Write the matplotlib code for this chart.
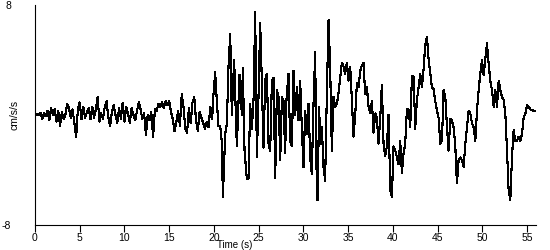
import matplotlib
matplotlib.use('Agg')
import matplotlib.pyplot as plt

# acceleration record
time_s = [
    0.0, 0.2, 0.4, 0.6, 0.8, 1.0, 1.2, 1.4, 1.6, 1.8,
    2.0, 2.2, 2.4, 2.6, 2.8, 3.0, 3.2, 3.4, 3.6, 3.8,
    4.0, 4.2, 4.4, 4.6, 4.8, 5.0, 5.2, 5.4, 5.6, 5.8,
    6.0, 6.2, 6.4, 6.6, 6.8, 7.0, 7.2, 7.4, 7.6, 7.8,
    8.0, 8.2, 8.4, 8.6, 8.8, 9.0, 9.2, 9.4, 9.6, 9.8,
    10.0, 10.2, 10.4, 10.6, 10.8, 11.0, 11.2, 11.4, 11.6, 11.8,
    12.0, 12.2, 12.4, 12.6, 12.8, 13.0, 13.2, 13.4, 13.6, 13.8,
    14.0, 14.2, 14.4, 14.6, 14.8, 15.0, 15.2, 15.4, 15.6, 15.8,
    16.0, 16.2, 16.4, 16.6, 16.8, 17.0, 17.2, 17.4, 17.6, 17.8,
    18.0, 18.2, 18.4, 18.6, 18.8, 19.0, 19.2, 19.4, 19.6, 19.8,
    19.95, 20.14, 20.32, 20.51, 20.7, 20.88, 21.0, 21.26, 21.44, 21.63,
    21.82, 22.0, 22.26, 22.56, 22.86, 23.12, 23.23, 23.42, 23.68, 23.87,
    24.05, 24.24, 24.43, 24.61, 24.8, 24.99, 25.17, 25.36, 25.54, 25.73,
    25.92, 26.1, 26.29, 26.48, 26.66, 26.85, 27.04, 27.22, 27.41, 27.6,
    27.78, 27.96, 28.1, 28.33, 28.52, 28.71, 28.89, 29.08, 29.27, 29.45,
    29.64, 29.82, 30.01, 30.2, 30.38, 30.57, 30.76, 30.94, 31.13, 31.32,
    31.43, 31.58, 31.76, 31.88, 32.06, 32.25, 32.43, 32.62, 32.81, 32.99,
    33.18, 33.37, 33.55, 33.74, 33.93, 34.11, 34.3, 34.49, 34.67, 34.86,
    35.05, 35.23, 35.42, 35.6, 35.79, 35.98, 36.16, 36.35, 36.54, 36.72,
    36.91, 37.1, 37.28, 37.47, 37.66, 37.84, 38.03, 38.21, 38.4, 38.59,
    38.77, 38.96, 39.15, 39.33, 39.52, 39.71, 39.89, 40.08, 40.27, 40.45,
    40.64, 40.82, 41.01, 41.2, 41.38, 41.57, 41.76, 41.94, 42.13, 42.32,
    42.5, 42.69, 42.88, 43.06, 43.25, 43.44, 43.62, 43.81, 44.0, 44.18,
    44.37, 44.55, 44.74, 44.93, 45.11, 45.3, 45.49, 45.67, 45.86, 46.05,
    46.23, 46.42, 46.6, 46.79, 46.98, 47.16, 47.35, 47.54, 47.72, 47.91,
    48.1, 48.28, 48.47, 48.66, 48.84, 49.03, 49.22, 49.4, 49.59, 49.77,
    49.96, 50.15, 50.33, 50.52, 50.71, 50.89, 51.08, 51.27, 51.45, 51.64,
    51.83, 52.01, 52.2, 52.39, 52.57, 52.76, 52.94, 53.13, 53.32, 53.5,
    53.69, 53.88, 54.06, 54.25, 54.44, 54.62, 54.81, 55.0, 55.19, 55.37,
    55.74, 56.0,
]
accel = [
    0.0, 0.05, 0.0, 0.15, -0.3, 0.1, -0.1, 0.3, -0.4, 0.5,
    0.0, 0.4, -0.5, 0.3, -0.8, 0.2, -0.3, 0.0, 0.8, 0.5,
    -0.2, 0.4, -0.6, -1.6, 0.5, 0.9, -0.3, 0.6, -0.2, 0.2,
    0.5, -0.3, 0.6, -0.2, 0.4, 1.3, -0.5, 0.1, -0.3, 0.6,
    1.0, -0.2, -0.8, 0.2, 0.7, 0.0, -0.6, 0.5, -0.3, 0.9,
    -0.5, 0.6, 0.1, -0.6, 0.5, 0.0, -0.4, 0.3, 0.9, 0.4,
    -0.3, 0.1, -1.5, 0.0, -0.4, 0.2, -1.6, 0.4, 0.3, 0.8,
    0.6, 0.9, 0.5, 1.0, 0.7, 1.0, 0.2, -0.3, -1.2, -0.5,
    0.3, -0.8, 1.5, 0.6, -1.0, -1.3, 0.5, -0.6, 0.9, 1.3,
    -0.4, -1.2, 0.2, -0.2, -0.6, -1.0, -0.5, -0.9, 0.6, -0.3,
    1.5, 3.1, 1.0, -0.8, -0.8, -2.0, -6.0, -1.4, -0.7, 3.5,
    5.9, 0.0, 4.0, -2.3, 2.9, 0.0, 3.4, -2.6, -4.7, -4.6,
    0.8, -1.0, 1.2, 7.5, -3.1, 1.5, 6.7, 2.3, -2.4, 2.5,
    3.0, -2.1, -2.6, 2.5, 2.7, -4.6, 1.8, 1.3, -3.3, 1.3,
    1.0, -2.8, 1.0, 3.0, -1.9, -2.3, 3.2, 0.0, 2.0, -0.4,
    2.5, -0.9, -3.8, 0.3, -1.4, 0.8, -3.1, -4.3, 0.8, 4.6,
    -3.1, -6.2, 0.6, -2.1, -0.9, -3.8, -4.8, 1.5, 6.9, 3.5,
    -2.6, 1.3, 0.6, 0.8, 1.6, 2.7, 3.8, 3.5, 3.0, 3.8,
    2.5, 3.5, 1.1, -1.6, 0.0, 2.3, 2.0, 3.2, 3.6, 3.8,
    1.5, 2.0, 0.6, 0.1, 1.0, -1.3, 0.1, -0.2, -2.1, -0.2,
    2.2, -2.1, -3.0, -2.3, 0.0, -5.5, -6.0, -2.3, -2.6, -3.1,
    -3.6, -1.9, -4.2, -2.8, -2.1, 0.4, 0.4, -0.9, 2.8, 2.8,
    -1.0, 1.1, 2.0, 3.0, 2.0, 3.4, 5.1, 5.7, 4.0, 3.0,
    2.0, 1.9, 1.0, 0.3, -0.2, -2.1, -1.9, 1.8, 1.3, -0.9,
    -2.6, -0.3, -0.4, -0.9, -2.3, -5.0, -3.3, -3.1, -3.3, -3.8,
    -2.1, -0.9, 0.3, 0.1, -0.6, -0.9, -1.9, 0.3, 1.8, 3.0,
    4.0, 2.9, 4.1, 5.2, 3.7, 2.5, 1.8, 0.6, 1.8, 0.6,
    2.5, 1.8, 1.3, 1.1, 0.1, -2.6, -5.5, -6.2, -3.0, -1.1,
    -1.9, -1.9, -1.6, -1.9, -1.4, -0.2, 0.1, 0.7, 0.6, 0.4,
    0.3, 0.3,
]
x_ticks = [0, 5, 10, 15, 20, 25, 30, 35, 40, 45, 50, 55]
y_ticks = [-8, 8]

plt.rcParams['font.family'] = ['Liberation Sans', 'DejaVu Sans']

fig = plt.figure(figsize=(5.5, 2.5), dpi=100)
ax = fig.add_axes([35 / 550, 1 - 224.7 / 250, 501 / 550, 219.7 / 250])

ax.plot(time_s, accel, color='black', lw=0.8, antialiased=False)

ax.set_xlim(0, 56)
ax.set_ylim(-8, 8)
ax.spines['top'].set_visible(False)
ax.spines['right'].set_visible(False)
for s in ('left', 'bottom'):
    ax.spines[s].set_linewidth(0.8)

ax.set_xticks(x_ticks)
ax.tick_params(axis='x', length=5, width=0.8, pad=0.8, labelsize=7.5)
ax.set_yticks(y_ticks)
ax.set_yticklabels([str(v) for v in y_ticks])
ax.tick_params(axis='y', length=0, pad=17, labelsize=7.5)
ax.set_yticks([-8], minor=True)
ax.tick_params(axis='y', which='minor', length=5, width=0.8)

fig.text(15 / 550, 1 - 115 / 250, 'cm/s/s', rotation=90, fontsize=7.5,
         ha='center', va='center')
fig.text(252 / 550, 1 - 249.5 / 250, 'Time (s)', fontsize=7,
         ha='right', va='bottom')

fig.savefig('out.png', dpi=100)
